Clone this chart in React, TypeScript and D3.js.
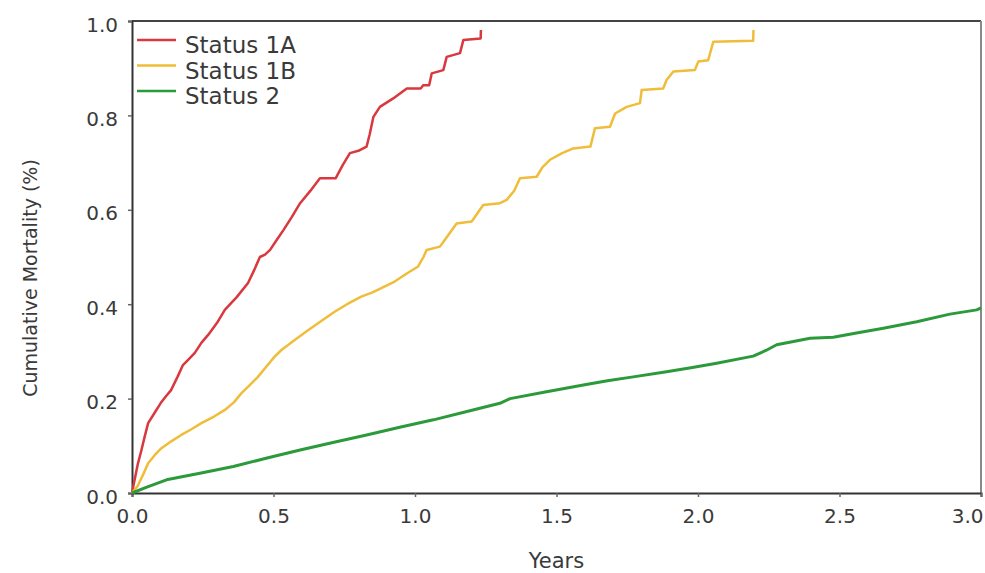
import React, { useEffect, useRef } from "react";
import * as d3 from "d3";

// [years, cumulative mortality] vertices
const status1A: [number, number][] = [
  [0, 0], [0.01, 0.03], [0.02, 0.06], [0.033, 0.09], [0.045, 0.12], [0.057, 0.148],
  [0.08, 0.17], [0.102, 0.191], [0.12, 0.205], [0.138, 0.218], [0.16, 0.245], [0.18, 0.271],
  [0.2, 0.283], [0.222, 0.297], [0.245, 0.318], [0.269, 0.335], [0.3, 0.36], [0.328, 0.388],
  [0.37, 0.415], [0.41, 0.445], [0.43, 0.47], [0.452, 0.5], [0.47, 0.505], [0.488, 0.515],
  [0.51, 0.535], [0.535, 0.557], [0.565, 0.585], [0.594, 0.614], [0.63, 0.64], [0.664, 0.667],
  [0.72, 0.667], [0.745, 0.695], [0.77, 0.72], [0.8, 0.725], [0.829, 0.734], [0.84, 0.76],
  [0.853, 0.797], [0.876, 0.818], [0.923, 0.836], [0.971, 0.857], [1.02, 0.857], [1.029, 0.864],
  [1.05, 0.864], [1.059, 0.889], [1.1, 0.896], [1.112, 0.924], [1.159, 0.932], [1.171, 0.96],
  [1.232, 0.963], [1.233, 0.981],
];

const status1B: [number, number][] = [
  [0, 0], [0.02, 0.015], [0.04, 0.04], [0.057, 0.063], [0.08, 0.08], [0.104, 0.095],
  [0.14, 0.11], [0.174, 0.123], [0.21, 0.135], [0.245, 0.148], [0.29, 0.162], [0.328, 0.176],
  [0.36, 0.192], [0.386, 0.211], [0.415, 0.228], [0.445, 0.246], [0.475, 0.268], [0.504, 0.289],
  [0.528, 0.303], [0.575, 0.324], [0.622, 0.345], [0.67, 0.365], [0.716, 0.384], [0.76, 0.4],
  [0.81, 0.416], [0.85, 0.425], [0.881, 0.434], [0.928, 0.448], [0.971, 0.465], [1.011, 0.48],
  [1.03, 0.5], [1.041, 0.515], [1.088, 0.522], [1.1, 0.532], [1.147, 0.571], [1.2, 0.575],
  [1.206, 0.58], [1.241, 0.61], [1.3, 0.614], [1.324, 0.621], [1.35, 0.64], [1.371, 0.667],
  [1.43, 0.67], [1.45, 0.69], [1.477, 0.706], [1.52, 0.72], [1.559, 0.73], [1.62, 0.734],
  [1.636, 0.773], [1.689, 0.776], [1.707, 0.804], [1.748, 0.818], [1.795, 0.826], [1.801, 0.854],
  [1.877, 0.857], [1.889, 0.875], [1.913, 0.893], [1.989, 0.896], [2.001, 0.914], [2.036, 0.917],
  [2.054, 0.956], [2.195, 0.958], [2.196, 0.981],
];

const status2: [number, number][] = [
  [0, 0], [0.05, 0.012], [0.122, 0.028], [0.24, 0.042], [0.358, 0.056], [0.47, 0.073],
  [0.594, 0.091], [0.71, 0.107], [0.829, 0.123], [0.95, 0.14], [1.065, 0.155], [1.18, 0.172],
  [1.3, 0.19], [1.336, 0.2], [1.46, 0.214], [1.595, 0.229], [1.68, 0.238], [1.771, 0.246],
  [1.889, 0.257], [1.98, 0.266], [2.066, 0.275], [2.195, 0.29], [2.24, 0.302], [2.278, 0.314],
  [2.396, 0.328], [2.478, 0.33], [2.56, 0.339], [2.655, 0.349], [2.773, 0.363], [2.89, 0.379],
  [2.985, 0.388], [3.0, 0.392],
];

const seriesNames = ["Status 1A", "Status 1B", "Status 2"];
const seriesColors = ["#d8383e", "#f0bd3a", "#2b9a3b"];
const xTicks = [0, 0.5, 1, 1.5, 2, 2.5, 3];
const yTicks = [0, 0.2, 0.4, 0.6, 0.8, 1.0];

export default function App() {
  const ref = useRef<SVGSVGElement>(null);

  useEffect(() => {
    if (!ref.current) return;
    const svg = d3.select(ref.current);
    svg.selectAll("*").remove();

    const left = 132, right = 981, top = 21, bottom = 493;
    const x = d3.scaleLinear().domain([0, 3]).range([left, right]);
    const y = d3.scaleLinear().domain([0, 1]).range([bottom, top]);
    const font = "'DejaVu Sans', Verdana, sans-serif";
    const textColor = "#3a3a3a";

    // frame: top and right borders
    svg.append("line")
      .attr("x1", left).attr("x2", right).attr("y1", top).attr("y2", top)
      .attr("stroke", "#444").attr("stroke-width", 2);
    svg.append("line")
      .attr("x1", right).attr("x2", right).attr("y1", top).attr("y2", bottom)
      .attr("stroke", "#8a8a8a").attr("stroke-width", 2);

    // x axis
    const gx = svg.append("g")
      .attr("transform", `translate(0,${bottom})`)
      .call(d3.axisBottom(x).tickValues(xTicks).tickFormat(d3.format(".1f")).tickSize(4).tickPadding(12));
    gx.select(".domain").attr("stroke", "#333").attr("stroke-width", 2);
    gx.selectAll(".tick line").attr("stroke", "#666").attr("stroke-width", 1.5);
    gx.selectAll("text")
      .attr("fill", textColor)
      .style("font-family", font)
      .style("font-size", "20px");
    // last label sits against the right edge
    gx.selectAll<SVGTextElement, number>("text")
      .filter((d) => d === 3)
      .attr("text-anchor", "end")
      .attr("x", 2);

    // y axis
    const gy = svg.append("g")
      .attr("transform", `translate(${left},0)`)
      .call(d3.axisLeft(y).tickValues(yTicks).tickFormat(d3.format(".1f")).tickSize(4).tickPadding(10));
    gy.select(".domain").attr("stroke", "#333").attr("stroke-width", 2);
    gy.selectAll(".tick line").attr("stroke", "#666").attr("stroke-width", 1.5);
    gy.selectAll("text")
      .attr("fill", textColor)
      .attr("dy", "0.5em")
      .style("font-family", font)
      .style("font-size", "20px");

    // axis titles
    svg.append("text")
      .attr("x", (left + right) / 2).attr("y", 568)
      .attr("text-anchor", "middle")
      .attr("fill", textColor)
      .style("font-family", font).style("font-size", "21px")
      .text("Years");
    svg.append("text")
      .attr("transform", "translate(37,278) rotate(-90)")
      .attr("text-anchor", "middle")
      .attr("fill", textColor)
      .style("font-family", font).style("font-size", "19px")
      .text("Cumulative Mortality (%)");

    // curves
    const line = d3.line<[number, number]>()
      .x((d) => x(d[0]))
      .y((d) => y(d[1]));
    const series = [status1A, status1B, status2];
    series.forEach((s, i) => {
      svg.append("path")
        .datum(s)
        .attr("fill", "none")
        .attr("stroke", seriesColors[i])
        .attr("stroke-width", i === 2 ? 3 : 2.5)
        .attr("stroke-linejoin", "round")
        .attr("d", line);
    });

    // legend
    const legend = svg.append("g");
    seriesNames.forEach((name, i) => {
      const ly = 40 + i * 25.5;
      legend.append("line")
        .attr("x1", 137).attr("x2", 176).attr("y1", ly).attr("y2", ly)
        .attr("stroke", seriesColors[i]).attr("stroke-width", 2.5);
      legend.append("text")
        .attr("x", 185).attr("y", ly + 13)
        .attr("fill", textColor)
        .style("font-family", font).style("font-size", "23px")
        .text(name);
    });
  }, []);

  return (
    <svg
      ref={ref}
      width={985}
      height={573}
      style={{ position: "absolute", left: 0, top: 0, background: "#fff" }}
    />
  );
}
